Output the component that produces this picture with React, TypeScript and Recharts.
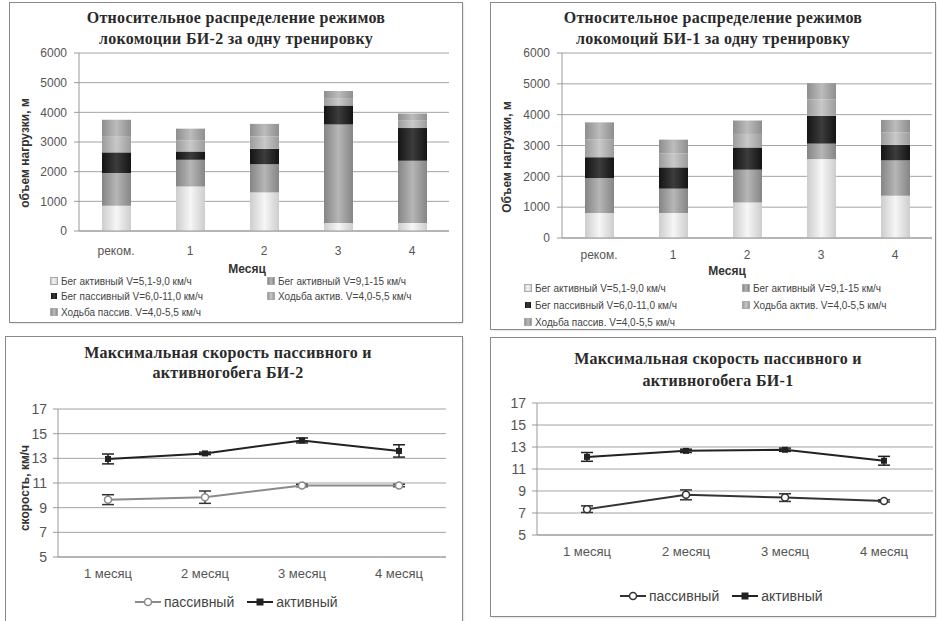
import React from "react";
import {
  BarChart,
  Bar,
  LineChart,
  Line,
  ErrorBar,
  XAxis,
  YAxis,
  CartesianGrid,
} from "recharts";

const SANS = '"Liberation Sans", Arial, sans-serif';
const SERIF = '"Liberation Serif", "Times New Roman", serif';

// --- stacked bars: volume per training, m
const barCategories = ["реком.", "1", "2", "3", "4"];
const seriesNames = [
  "Бег активный V=5,1-9,0 км/ч",
  "Бег активный V=9,1-15 км/ч",
  "Бег пассивный V=6,0-11,0 км/ч",
  "Ходьба актив. V=4,0-5,5 км/ч",
  "Ходьба пассив. V=4,0-5,5 км/ч",
];
const volumeTicks = [0, 1000, 2000, 3000, 4000, 5000, 6000];

const bi2BegAkt59 = [850, 1500, 1300, 270, 270];
const bi2BegAkt915 = [1100, 900, 950, 3320, 2100];
const bi2BegPass = [700, 280, 520, 640, 1100];
const bi2HodAkt = [550, 380, 420, 250, 250];
const bi2HodPass = [550, 390, 420, 240, 240];

const bi1BegAkt59 = [810, 810, 1155, 2560, 1370];
const bi1BegAkt915 = [1130, 790, 1060, 500, 1150];
const bi1BegPass = [680, 690, 720, 900, 500];
const bi1HodAkt = [570, 450, 440, 530, 400];
const bi1HodPass = [560, 450, 435, 530, 410];

// --- lines: max speed, km/h
const months = ["1 месяц", "2 месяц", "3 месяц", "4 месяц"];
const speedTicks = [5, 7, 9, 11, 13, 15, 17];

const bi2Pass = [9.65, 9.85, 10.8, 10.8];
const bi2PassErr = [0.4, 0.5, 0.1, 0.1];
const bi2Act = [12.95, 13.4, 14.45, 13.6];
const bi2ActErr = [0.4, 0.1, 0.2, 0.5];

const bi1Pass = [7.35, 8.65, 8.4, 8.1];
const bi1PassErr = [0.3, 0.45, 0.35, 0.1];
const bi1Act = [12.1, 12.65, 12.75, 11.75];
const bi1ActErr = [0.4, 0.15, 0.15, 0.4];

// edge / centre colour of each stacked series (cylinder-ish gradient)
const shades = [
  ["#cdcdcd", "#f6f6f6"],
  ["#858585", "#b6b6b6"],
  ["#141414", "#3c3c3c"],
  ["#9c9c9c", "#c8c8c8"],
  ["#8e8e8e", "#bcbcbc"],
];

function stackRows(cols: number[][]) {
  return barCategories.map((name, i) => {
    const row: any = { name };
    cols.forEach((c, k) => (row["s" + k] = c[i]));
    return row;
  });
}

function lineRows(pass: number[], passErr: number[], act: number[], actErr: number[]) {
  return months.map((name, i) => ({
    name,
    pass: pass[i],
    passErr: passErr[i],
    act: act[i],
    actErr: actErr[i],
  }));
}

function Title({ lines, cx, top, lh }: any) {
  return (
    <div
      style={{
        position: "absolute",
        left: cx - 200,
        width: 400,
        top,
        textAlign: "center",
        fontFamily: SERIF,
        fontWeight: "bold",
        fontSize: 16,
        lineHeight: lh + "px",
        letterSpacing: 0.3,
        color: "#2a2a2a",
      }}
    >
      {lines.map((l: string) => (
        <div key={l}>{l}</div>
      ))}
    </div>
  );
}

function VTitle({ text, cx, cy, size }: any) {
  return (
    <div
      style={{
        position: "absolute",
        left: cx,
        top: cy,
        transform: "translate(-50%, -50%) rotate(-90deg)",
        whiteSpace: "nowrap",
        fontFamily: SANS,
        fontWeight: "bold",
        fontSize: size,
        color: "#333",
      }}
    >
      {text}
    </div>
  );
}

function StackedPanel({ box, plot, title, titleX, yTitle, yTitlePos, monthPos, legend, cols, id }: any) {
  const data = stackRows(cols);
  const rowsY = legend.rows;
  return (
    <div
      style={{
        position: "absolute",
        left: box.x,
        top: box.y,
        width: box.w,
        height: box.h,
        outline: "1px solid #8a8a8a",
        boxShadow: "1px 1px 2px #bbb",
        background: "#fff",
      }}
    >
      <Title lines={title} cx={titleX} top={4} lh={21} />
      <VTitle text={yTitle} cx={yTitlePos[0]} cy={yTitlePos[1]} size={12} />
      <BarChart
        width={box.w}
        height={box.h}
        data={data}
        barCategoryGap="20%"
        margin={{ top: plot.top, right: box.w - plot.right, left: 0, bottom: 0 }}
        style={{ position: "absolute", left: 0, top: 0 }}
      >
        <defs>
          {shades.map((s, i) => (
            <linearGradient key={i} id={id + "g" + i} x1="0" y1="0" x2="1" y2="0">
              <stop offset="0" stopColor={s[0]} />
              <stop offset="0.5" stopColor={s[1]} />
              <stop offset="1" stopColor={s[0]} />
            </linearGradient>
          ))}
        </defs>
        <CartesianGrid vertical={false} stroke="#a3a3a3" />
        <XAxis
          dataKey="name"
          height={box.h - plot.bottom}
          interval={0}
          tickLine={false}
          tickSize={6}
          tickMargin={plot.tickMargin}
          axisLine={{ stroke: "#999" }}
          tick={{ fill: "#555", fontSize: 12, fontFamily: SANS }}
        />
        <YAxis
          width={plot.left}
          domain={[0, 6000]}
          ticks={volumeTicks}
          interval={0}
          tickSize={5}
          tickMargin={7}
          axisLine={{ stroke: "#999" }}
          tickLine={{ stroke: "#999" }}
          tick={{ fill: "#555", fontSize: 12, fontFamily: SANS }}
        />
        {seriesNames.map((n, i) => (
          <Bar
            key={n}
            name={n}
            dataKey={"s" + i}
            stackId="v"
            barSize={29}
            fill={`url(#${id}g${i})`}
            isAnimationActive={false}
          />
        ))}
      </BarChart>
      <div
        style={{
          position: "absolute",
          left: monthPos[0] - 40,
          width: 80,
          top: monthPos[1] - 6,
          textAlign: "center",
          fontFamily: SANS,
          fontWeight: "bold",
          fontSize: 12,
          lineHeight: "12px",
          color: "#333",
        }}
      >
        Месяц
      </div>
      {seriesNames.map((n, i) => (
        <div
          key={n}
          style={{
            position: "absolute",
            left: i % 2 === 0 ? legend.col1 : legend.col2,
            top: rowsY[Math.floor(i / 2)] - 7,
            height: 14,
            display: "flex",
            alignItems: "center",
            whiteSpace: "nowrap",
            fontFamily: SANS,
            fontSize: 10,
            color: "#444",
          }}
        >
          <span
            style={{
              display: "inline-block",
              width: 6,
              height: 6,
              marginRight: 4,
              background: `linear-gradient(90deg, ${shades[i][0]}, ${shades[i][1]}, ${shades[i][0]})`,
              outline: i === 2 ? "none" : "1px solid #aaa",
            }}
          />
          {n}
        </div>
      ))}
    </div>
  );
}

const squareDot = (size: number, fill: string) => (p: any) =>
  (
    <rect
      key={"sq" + p.index}
      x={p.cx - size / 2}
      y={p.cy - size / 2}
      width={size}
      height={size}
      fill={fill}
    />
  );

const circleDot = (r: number, stroke: string) => (p: any) =>
  <circle key={"c" + p.index} cx={p.cx} cy={p.cy} r={r} fill="#fff" stroke={stroke} strokeWidth={1.5} />;

function LegendMark({ color, kind }: any) {
  return (
    <svg width={28} height={10} style={{ marginRight: 2 }}>
      <line x1={1} y1={5} x2={27} y2={5} stroke={color} strokeWidth={2} />
      {kind === "circle" ? (
        <circle cx={14} cy={5} r={3.5} fill="#fff" stroke={color} strokeWidth={1.5} />
      ) : (
        <rect x={10.5} y={1.5} width={7} height={7} fill={color} />
      )}
    </svg>
  );
}

function LinePanel({ box, plot, title, titleX, titleTop, titleLh, yTitle, legendY, legendX, data, passColor, actColor }: any) {
  return (
    <div
      style={{
        position: "absolute",
        left: box.x,
        top: box.y,
        width: box.w,
        height: box.h,
        outline: "1px solid #8a8a8a",
        boxShadow: "1px 1px 2px #bbb",
        background: "#fff",
      }}
    >
      <Title lines={title} cx={titleX} top={titleTop} lh={titleLh} />
      {yTitle ? <VTitle text={yTitle.text} cx={yTitle.x} cy={yTitle.y} size={12} /> : null}
      <LineChart
        width={box.w}
        height={box.h}
        data={data}
        margin={{ top: plot.top, right: box.w - plot.right, left: 0, bottom: 0 }}
        style={{ position: "absolute", left: 0, top: 0 }}
      >
        <CartesianGrid vertical={false} stroke="#a3a3a3" />
        <XAxis
          dataKey="name"
          scale="point"
          padding={{ left: 50, right: plot.right - plot.left - 50 - 3 * plot.step }}
          height={box.h - plot.bottom}
          interval={0}
          tickLine={false}
          tickSize={6}
          tickMargin={6}
          axisLine={{ stroke: "#999" }}
          tick={{ fill: "#555", fontSize: 13, fontFamily: SANS }}
        />
        <YAxis
          width={plot.left}
          domain={[5, 17]}
          ticks={speedTicks}
          interval={0}
          tickSize={5}
          tickMargin={6}
          axisLine={{ stroke: "#999" }}
          tickLine={{ stroke: "#999" }}
          tick={{ fill: "#555", fontSize: 14, fontFamily: SANS }}
        />
        <Line
          dataKey="pass"
          name="пассивный"
          stroke={passColor}
          strokeWidth={2}
          dot={circleDot(3.5, passColor)}
          isAnimationActive={false}
        >
          <ErrorBar dataKey="passErr" width={6} stroke="#333" strokeWidth={1.5} />
        </Line>
        <Line
          dataKey="act"
          name="активный"
          stroke={actColor}
          strokeWidth={2}
          dot={squareDot(6, actColor)}
          isAnimationActive={false}
        >
          <ErrorBar dataKey="actErr" width={6} stroke="#222" strokeWidth={1.5} />
        </Line>
      </LineChart>
      <div
        style={{
          position: "absolute",
          left: legendX,
          top: legendY - 9,
          height: 18,
          display: "flex",
          alignItems: "center",
          whiteSpace: "nowrap",
          fontFamily: SANS,
          fontSize: 14,
          color: "#444",
        }}
      >
        <LegendMark color={passColor} kind="circle" />
        <span style={{ marginRight: 12 }}>пассивный</span>
        <LegendMark color={actColor} kind="square" />
        <span>активный</span>
      </div>
    </div>
  );
}

export default function App() {
  return (
    <div
      style={{
        position: "absolute",
        left: 0,
        top: 0,
        width: 937,
        height: 621,
        overflow: "hidden",
        background: "#fff",
      }}
    >
      <StackedPanel
        id="bi2"
        box={{ x: 10, y: 3, w: 452, h: 319 }}
        plot={{ left: 69, right: 439, top: 50, bottom: 228, tickMargin: 9 }}
        title={["Относительное распределение режимов", "локомоции БИ-2 за одну тренировку"]}
        titleX={226}
        yTitle="объем нагрузки, м"
        yTitlePos={[15, 150]}
        monthPos={[237, 266]}
        legend={{ col1: 41, col2: 258, rows: [278, 293, 309] }}
        cols={[bi2BegAkt59, bi2BegAkt915, bi2BegPass, bi2HodAkt, bi2HodPass]}
      />
      <StackedPanel
        id="bi1"
        box={{ x: 491, y: 3, w: 444, h: 326 }}
        plot={{ left: 71, right: 441, top: 50, bottom: 235, tickMargin: 6 }}
        title={["Относительное распределение режимов", "локомоций БИ-1 за одну  тренировку"]}
        titleX={222}
        yTitle="Объем нагрузки, м"
        yTitlePos={[16, 154]}
        monthPos={[236, 268]}
        legend={{ col1: 34, col2: 252, rows: [285, 302, 319] }}
        cols={[bi1BegAkt59, bi1BegAkt915, bi1BegPass, bi1HodAkt, bi1HodPass]}
      />
      <LinePanel
        box={{ x: 6, y: 337, w: 456, h: 300 }}
        plot={{ left: 52, right: 440, top: 72, bottom: 220, step: 97 }}
        title={["Максимальная скорость пассивного и", "активногобега БИ-2"]}
        titleX={222}
        titleTop={6}
        titleLh={20}
        yTitle={{ text: "скорость, км/ч", x: 19, y: 151 }}
        legendX={128}
        legendY={265}
        data={lineRows(bi2Pass, bi2PassErr, bi2Act, bi2ActErr)}
        passColor="#8a8a8a"
        actColor="#222"
      />
      <LinePanel
        box={{ x: 491, y: 338, w: 444, h: 278 }}
        plot={{ left: 46, right: 442, top: 65, bottom: 197, step: 99 }}
        title={["Максимальная скорость пассивного и", "активногобега БИ-1"]}
        titleX={227}
        titleTop={10}
        titleLh={22}
        legendX={128}
        legendY={258}
        data={lineRows(bi1Pass, bi1PassErr, bi1Act, bi1ActErr)}
        passColor="#333"
        actColor="#222"
      />
    </div>
  );
}
